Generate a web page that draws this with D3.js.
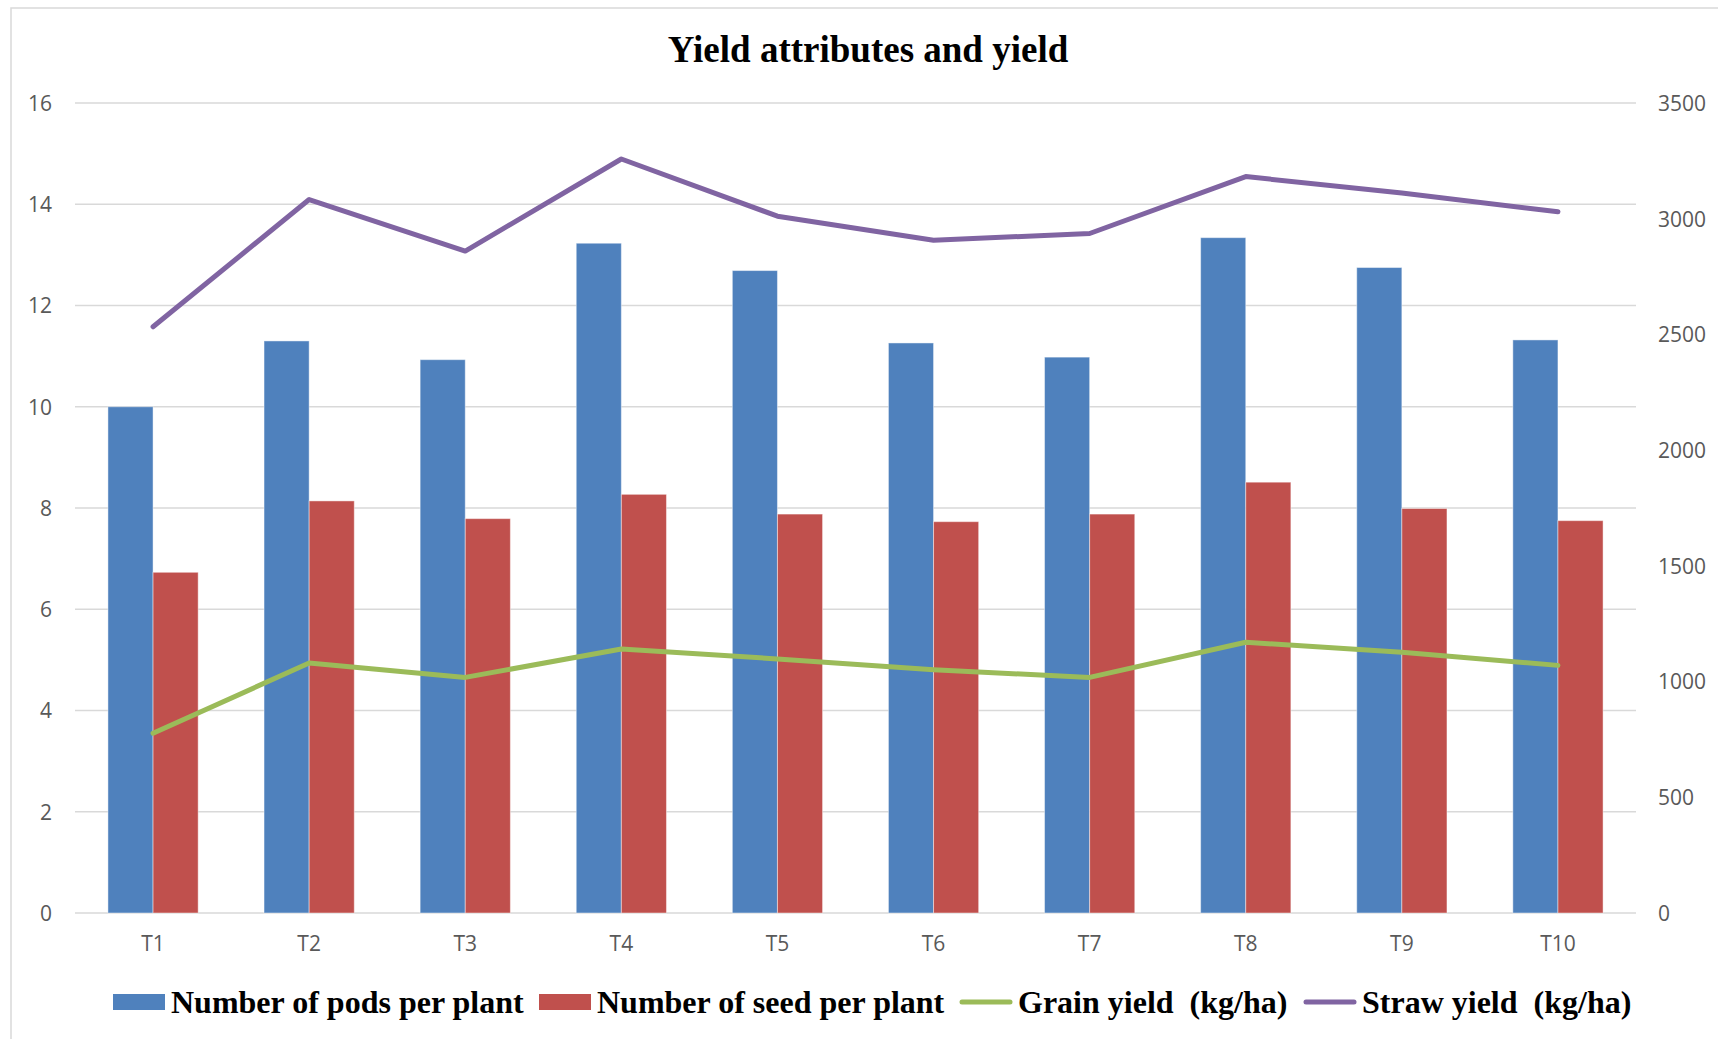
<!DOCTYPE html>
<html>
<head>
<meta charset="utf-8">
<script src="https://cdn.jsdelivr.net/npm/d3@7"></script>
<style>
  body { margin: 0; background: #fff; }
  svg { display: block; }
</style>
</head>
<body>
<div id="container"></div>
<script>
/* DATA */
const categories = ["T1", "T2", "T3", "T4", "T5", "T6", "T7", "T8", "T9", "T10"];
const podsPerPlant = [10.0, 11.3, 10.93, 13.23, 12.69, 11.26, 10.98, 13.34, 12.75, 11.32];
const seedPerPlant = [6.73, 8.14, 7.79, 8.27, 7.88, 7.73, 7.88, 8.51, 7.99, 7.75];
const grainYield = [777, 1080, 1018, 1141, 1098, 1051, 1018, 1170, 1127, 1070];
const strawYield = [2533, 3083, 2860, 3258, 3011, 2907, 2936, 3182, 3111, 3030];
const leftTicks = [0, 2, 4, 6, 8, 10, 12, 14, 16];
const rightTicks = [0, 500, 1000, 1500, 2000, 2500, 3000, 3500];
const legendLabels = ["Number of pods per plant", "Number of seed per plant", "Grain yield  (kg/ha)", "Straw yield  (kg/ha)"];

/* CONSTANTS */
const width = 1718, height = 1039,
      margin = {top: 103, left: 75, bottom: 126, right: 82};
const colors = {pods: "#4f81bd", seed: "#c0504d", grain: "#9bbb59", straw: "#8064a2"};
const axisFont = "'Open Sans', sans-serif";
const serifFont = "'Liberation Serif', 'Times New Roman', serif";

const svg = d3.select("#container")
  .append("svg")
  .attr("width", width)
  .attr("height", height);

// chart border
svg.append("rect")
  .attr("x", 11).attr("y", 8)
  .attr("width", width + 20).attr("height", height + 20)
  .attr("fill", "none")
  .attr("stroke", "#d9d9d9")
  .attr("stroke-width", 1.5);

/* SCALES */
const x0 = d3.scaleBand()
  .domain(categories)
  .range([margin.left, width - margin.right])
  .padding(0);

const x1 = d3.scaleBand()
  .domain(["pods", "seed"])
  .range([0, x0.bandwidth()])
  .paddingInner(0)
  .paddingOuter(0.73);

const yLeft = d3.scaleLinear()
  .domain([0, 16])
  .range([height - margin.bottom, margin.top]);

const yRight = d3.scaleLinear()
  .domain([0, 3500])
  .range([height - margin.bottom, margin.top]);

/* GRIDLINES */
svg.append("g")
  .selectAll("line")
  .data(leftTicks)
  .join("line")
  .attr("x1", margin.left)
  .attr("x2", width - margin.right)
  .attr("y1", d => yLeft(d))
  .attr("y2", d => yLeft(d))
  .attr("stroke", "#d9d9d9")
  .attr("stroke-width", 1.5);

/* BARS */
const barData = categories.map((c, i) => ({cat: c, pods: podsPerPlant[i], seed: seedPerPlant[i]}));

const groups = svg.append("g")
  .selectAll("g")
  .data(barData)
  .join("g")
  .attr("transform", d => `translate(${x0(d.cat)},0)`);

groups.selectAll("rect")
  .data(d => ["pods", "seed"].map(k => ({key: k, value: d[k]})))
  .join("rect")
  .attr("x", d => x1(d.key))
  .attr("width", x1.bandwidth())
  .attr("y", d => yLeft(d.value))
  .attr("height", d => yLeft(0) - yLeft(d.value))
  .attr("fill", d => colors[d.key])
  .attr("stroke", "#ffffff")
  .attr("stroke-opacity", 0.45)
  .attr("stroke-width", 1);

/* LINES */
const cx = c => x0(c) + x0.bandwidth() / 2;
const line = d3.line()
  .x(d => cx(d.cat))
  .y(d => yRight(d.value));

[[grainYield, colors.grain], [strawYield, colors.straw]].forEach(([vals, col]) => {
  svg.append("path")
    .datum(categories.map((c, i) => ({cat: c, value: vals[i]})))
    .attr("d", line)
    .attr("fill", "none")
    .attr("stroke", col)
    .attr("stroke-width", 5)
    .attr("stroke-linecap", "round")
    .attr("stroke-linejoin", "round");
});

/* AXES */
const leftAxis = svg.append("g")
  .attr("transform", `translate(${margin.left},0)`)
  .call(d3.axisLeft(yLeft).tickValues(leftTicks).tickSize(0).tickPadding(23));

const rightAxis = svg.append("g")
  .attr("transform", `translate(${width - margin.right},0)`)
  .call(d3.axisRight(yRight).tickValues(rightTicks).tickFormat(d3.format("d")).tickSize(0).tickPadding(22));

const bottomAxis = svg.append("g")
  .attr("transform", `translate(0,${height - margin.bottom})`)
  .call(d3.axisBottom(x0).tickSize(0).tickPadding(23));

[leftAxis, rightAxis, bottomAxis].forEach(a => {
  a.select(".domain").remove();
  a.selectAll("text")
    .attr("font-family", axisFont)
    .attr("font-size", 21)
    .attr("fill", "#595959");
});
leftAxis.selectAll("text").attr("dy", "0.35em");
rightAxis.selectAll("text").attr("dy", "0.35em");

/* TITLE */
svg.append("text")
  .attr("x", 868)
  .attr("y", 62)
  .attr("text-anchor", "middle")
  .attr("font-family", serifFont)
  .attr("font-weight", "bold")
  .attr("font-size", 37)
  .attr("fill", "#000")
  .text("Yield attributes and yield");

/* LEGEND */
const legendX = [113, 539, 960, 1304];
const legendKeys = ["pods", "seed", "grain", "straw"];
const legend = svg.append("g")
  .selectAll("g")
  .data(legendKeys)
  .join("g")
  .attr("transform", (d, i) => `translate(${legendX[i]},1002)`);

legend.each(function(d, i) {
  const g = d3.select(this);
  if (i < 2) {
    g.append("rect")
      .attr("x", 0).attr("y", -8)
      .attr("width", 52).attr("height", 16)
      .attr("fill", colors[d]);
  } else {
    g.append("line")
      .attr("x1", 2).attr("x2", 50)
      .attr("y1", 0).attr("y2", 0)
      .attr("stroke", colors[d])
      .attr("stroke-width", 5)
      .attr("stroke-linecap", "round");
  }
  g.append("text")
    .attr("x", 58)
    .attr("y", 11)
    .attr("xml:space", "preserve")
    .style("white-space", "pre")
    .attr("font-family", serifFont)
    .attr("font-weight", "bold")
    .attr("font-size", 32)
    .attr("fill", "#000")
    .text(legendLabels[i]);
});
</script>
</body>
</html>
